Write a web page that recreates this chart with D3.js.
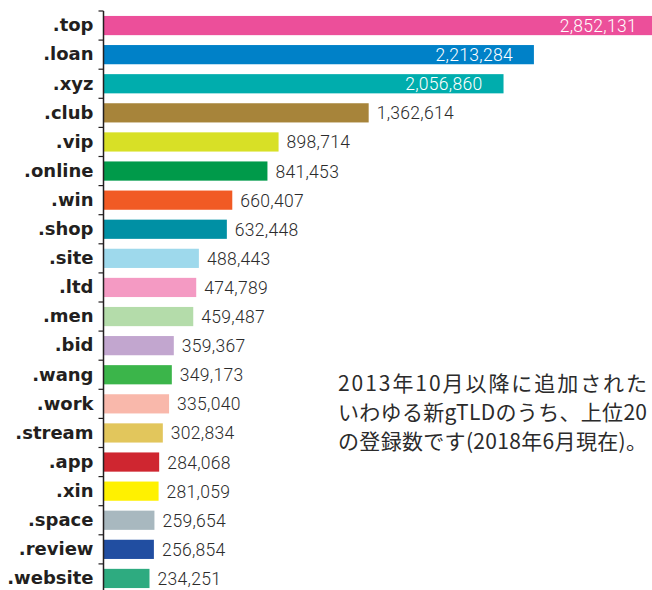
<!DOCTYPE html>
<html><head><meta charset="utf-8">
<script src="https://cdn.jsdelivr.net/npm/d3@7"></script>
<style>
html,body{margin:0;padding:0;background:#fff;}
svg{display:block;}
</style></head>
<body>
<script>
const categories = [".top",".loan",".xyz",".club",".vip",".online",".win",".shop",".site",".ltd",".men",".bid",".wang",".work",".stream",".app",".xin",".space",".review",".website"];
const values = [2852131,2213284,2056860,1362614,898714,841453,660407,632448,488443,474789,459487,359367,349173,335040,302834,284068,281059,259654,256854,234251];
const colors = ["#ec4f9a","#0081c8","#00adad","#a7843a","#d8e026","#009a4a","#f15a24","#0090a4","#9ed9ec","#f49ac3","#b4dcaa","#c2a6cf","#3bb54a","#f9b8ab","#e2c65c","#cf2630","#fff100","#a8b8bf","#214ea1","#2eab80"];
const noteLines = ["2013年10月以降に追加された","いわゆる新gTLDのうち、上位20","の登録数です(2018年6月現在)。"];

const W = 652, H = 590;
const svg = d3.select("body").append("svg").attr("width", W).attr("height", H);

const x = d3.scaleLinear().domain([0, d3.max(values)]).range([104, 658]);
const y = d3.scaleBand().domain(categories).range([11, 11 + 29.1 * categories.length])
  .paddingInner(0.34).paddingOuter(0.17);

const data = categories.map((c, i) => ({c, v: values[i], col: colors[i], i}));

// bars
svg.append("g").selectAll("rect").data(data).join("rect")
  .attr("x", x(0)).attr("y", d => y(d.c))
  .attr("width", d => x(d.v) - x(0)).attr("height", y.bandwidth())
  .attr("fill", d => d.col);

// value labels
const fmt = d3.format(",");
svg.append("g").selectAll("text").data(data).join("text")
  .attr("x", d => d.i < 3 ? x(d.v) - 21 : x(d.v) + 8)
  .attr("y", d => y(d.c) + y.bandwidth() / 2)
  .attr("dy", "0.37em")
  .attr("text-anchor", d => d.i < 3 ? "end" : "start")
  .attr("fill", d => d.i < 3 ? "#fff" : "#2b2b2b")
  .style("font-family", "Roboto, sans-serif")
  .style("font-size", "17.5px")
  .style("font-weight", 300)
  .style("letter-spacing", "0.3px")
  .text(d => fmt(d.v));

// axis
const axis = d3.axisLeft(y).tickSize(0).tickPadding(10);
const ag = svg.append("g").attr("transform", `translate(${x(0) - 0.5},0)`).call(axis);
ag.select(".domain").attr("d", `M0,${y.range()[0]}V${H + 5}`).attr("stroke", "#231f20").attr("stroke-width", 1.5);
ag.selectAll(".tick text")
  .style("font-family", "'DejaVu Sans', sans-serif")
  .style("font-size", "18px")
  .style("font-weight", "bold")
  .attr("fill", "#231f20");

// boundary ticks
const step = y.step();
const bounds = categories.map((c, i) => y(c) - step * y.paddingInner() / 2);
ag.append("g").selectAll("line").data(bounds).join("line")
  .attr("x1", -5).attr("x2", 0)
  .attr("y1", d => d).attr("y2", d => d)
  .attr("stroke", "#231f20").attr("stroke-width", 1.2);

// note
const note = svg.append("g");
note.selectAll("text").data(noteLines).join("text")
  .attr("x", 338).attr("y", (d, i) => 391 + i * 29)
  .attr("textLength", 309).attr("lengthAdjust", "spacing")
  .style("font-family", "'Noto Sans CJK JP', sans-serif")
  .style("font-size", "21px")
  .attr("fill", "#2b2b2b")
  .text(d => d);
</script>
</body></html>
